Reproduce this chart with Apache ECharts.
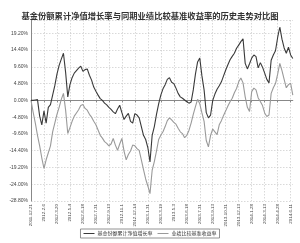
<!DOCTYPE html>
<html><head><meta charset="utf-8">
<script src="https://cdn.jsdelivr.net/npm/echarts@6/dist/echarts.min.js"></script>
<style>html,body{margin:0;padding:0;background:#fff}#c{width:300px;height:243px}</style>
</head><body><div id="c"></div>
<script>
const titleText = '基金份额累计净值增长率与同期业绩比较基准收益率的历史走势对比图';
const seriesNames = ['基金份额累计净值增长率', '业绩比较基准收益率'];
const tickLabels = ['2011-12-21','2012-2-6','2012-3-20','2012-5-4','2012-6-18','2012-7-31','2012-9-13','2012-11-1','2012-12-14','2013-1-31','2013-3-19','2013-5-3','2013-6-18','2013-7-31','2013-9-13','2013-10-31','2013-12-13','2014-1-28','2014-3-13','2014-4-28','2014-6-11'];
const fundValues = [0,0,0.1,0.2,-4.5,-7,-3,-6.5,-2,-1.2,1.5,4.2,7.5,10,11.8,13.5,8,1,4.5,6.5,7.8,8.5,9.2,9.8,8.3,8.8,9.0,7.2,5.8,3.8,2.6,1.5,0.5,0,-0.8,-1.3,-2,-2.6,-3.3,-3.8,-2.5,-1.4,-3.5,-5.5,-4.5,-3.7,-6,-6.5,-3.8,-4.2,-5,-7.5,-10,-11.2,-13.5,-17.6,-10,-7.5,-4,-1,1.5,3.3,4.5,6,6.5,5.2,4.8,3.5,2,1,0.6,0.1,-0.4,-0.8,-0.5,3,7.5,11,12.1,7,3,-3.5,-5,-4.2,0,1.8,3.2,4.2,5.3,7,8.7,10.2,11.6,12.6,13.5,14.9,15.8,16.8,17.6,10.6,9,10.5,12.1,13,12.5,9.3,10.8,9.5,7.8,6,5,11.5,13,14.2,18,21,17.5,15,13.5,15.2,13,12];
const benchValues = [0,-3.4,-6.5,-10,-13,-16.5,-19.5,-17,-15,-13,-9,-6.5,-4,-2,0.3,2,-2.8,-9.5,-7.8,-6,-4.5,-3.6,-2.7,-1.5,-1.2,-2.3,-2.8,-4,-4.8,-6,-7,-8.5,-10,-10.8,-11.8,-12.3,-13,-12.5,-10.9,-12.8,-14.3,-12.5,-10.9,-14.5,-17,-15.5,-14.5,-12.8,-13,-13.8,-14.3,-17,-19.8,-22.5,-24.5,-26.7,-20,-17.5,-14.5,-11.2,-10,-9,-7.5,-5.8,-5,-5.6,-6.3,-6.8,-8,-9,-9.5,-10.7,-10,-8.6,-6.5,-4,-1.8,0.3,-1,-3.6,-6,-11.5,-13.3,-10,-8.2,-9,-9.8,-7,-5.8,-4.3,-3,-1.6,-0.4,0.6,2.2,3.4,5.3,6.4,5,1,-2,-3.2,2.5,3.5,3,0.7,-0.3,-1.5,-3.6,-4.6,-4.2,2,3.6,4.8,7.5,10.6,8.5,6,3.6,4.5,4.9,1.5];
const pointsPerTick = 6;
const categories = fundValues.map((v, i) => i % pointsPerTick === 0 ? tickLabels[i / pointsPerTick] : '');

const chart = echarts.init(document.getElementById('c'), null, {renderer: 'canvas'});
chart.setOption({
  animation: false,
  backgroundColor: '#fff',
  title: {
    text: titleText, left: 'center', top: 7,
    textStyle: {fontSize: 8.3, fontWeight: 'bold', color: '#333', fontFamily: 'Noto Sans CJK SC'}
  },
  legend: {
    data: seriesNames, top: 229, left: 'center',
    borderColor: '#777', borderWidth: 0.8, padding: [2, 3], itemGap: 5,
    itemWidth: 11, itemHeight: 1, icon: 'rect',
    textStyle: {fontSize: 5, color: '#333', fontFamily: 'Noto Sans CJK SC', padding: [0, 0, 0, -2]}
  },
  grid: {left: 31, right: 7.2, top: 20, bottom: 42, containLabel: false},
  xAxis: {
    type: 'category', data: categories, boundaryGap: false,
    axisLine: {lineStyle: {color: '#888', width: 1}},
    axisTick: {show: true, interval: pointsPerTick - 1, length: 2, lineStyle: {color: '#888'}},
    axisLabel: {interval: pointsPerTick - 1, rotate: 90, fontSize: 4.4, color: '#444', margin: 3, fontFamily: 'Liberation Sans'},
    splitLine: {show: true, interval: pointsPerTick - 1, lineStyle: {color: '#c8c8c8', type: [1.5, 1.5], width: 0.7}}
  },
  yAxis: {
    type: 'value', min: -28.8, max: 23, interval: 4.8,
    axisLine: {show: true, lineStyle: {color: '#888', width: 1}},
    axisTick: {show: false},
    axisLabel: {showMaxLabel: false, fontSize: 5, color: '#444', margin: 3, fontFamily: 'Liberation Sans',
      formatter: v => v.toFixed(2) + '%'},
    splitLine: {show: true, lineStyle: {color: '#c8c8c8', type: [1.5, 1.5], width: 0.7}}
  },
  series: [
    {name: seriesNames[0], type: 'line', data: fundValues, symbol: 'none', lineStyle: {color: '#3a3a3a', width: 1.1}, itemStyle: {color: '#3a3a3a'}, z: 3},
    {name: seriesNames[1], type: 'line', data: benchValues, symbol: 'none', lineStyle: {color: '#9a9a9a', width: 1.1}, itemStyle: {color: '#9a9a9a'}, z: 2}
  ]
});
</script></body></html>
